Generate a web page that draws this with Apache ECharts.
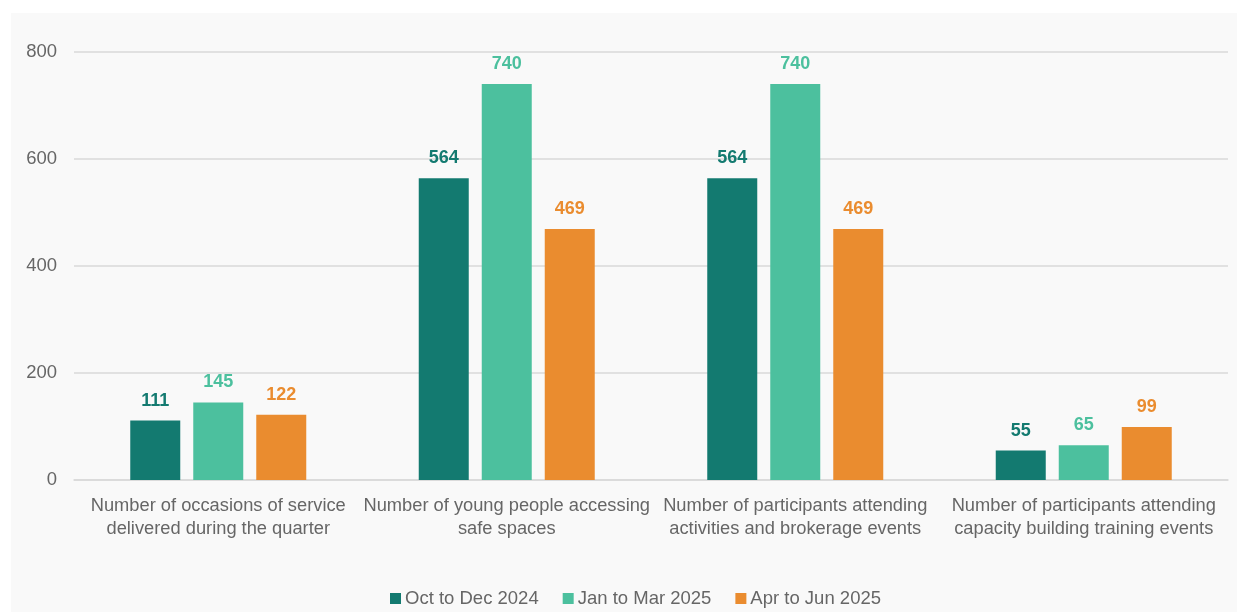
<!DOCTYPE html>
<html>
<head>
<meta charset="utf-8">
<script src="https://cdn.jsdelivr.net/npm/echarts@6/dist/echarts.min.js"></script>
<style>
  html, body { margin: 0; padding: 0; background: #ffffff; }
  #panel { position: absolute; left: 11px; top: 13px; width: 1226px; height: 599px; background: #f9f9f9; }
  #chart { position: absolute; left: 0; top: 0; width: 1237px; height: 612px; }
</style>
</head>
<body>
<div id="panel"></div>
<div id="chart"></div>
<script>
// Indicator categories and quarterly counts
const categories = [
  'Number of occasions of service\ndelivered during the quarter',
  'Number of young people accessing\nsafe spaces',
  'Number of participants attending\nactivities and brokerage events',
  'Number of participants attending\ncapacity building training events'
];
const seriesNames = ['Oct to Dec 2024', 'Jan to Mar 2025', 'Apr to Jun 2025'];
const octDec2024 = [111, 564, 564, 55];
const janMar2025 = [145, 740, 740, 65];
const aprJun2025 = [122, 469, 469, 99];
const yTicks = [0, 200, 400, 600, 800];

const colors = ['#137a70', '#4cc09e', '#ea8c2f'];
const font = 'Liberation Sans, Arial, sans-serif';

function barSeries(name, data, color) {
  return {
    name: name,
    type: 'bar',
    data: data,
    barWidth: 50,
    barGap: '26%',
    itemStyle: { color: color },
    label: {
      show: true,
      position: 'top',
      distance: 11,
      color: color,
      fontFamily: font,
      fontWeight: 'bold',
      fontSize: 18
    }
  };
}

const chart = echarts.init(document.getElementById('chart'), null, { renderer: 'canvas' });
chart.setOption({
  backgroundColor: 'transparent',
  animation: false,
  grid: { left: 74, right: 9, top: 52, bottom: 132, containLabel: false },
  legend: {
    data: seriesNames,
    bottom: -1,
    left: 385,
    itemWidth: 11,
    itemHeight: 11,
    itemGap: 24,
    icon: 'rect',
    textStyle: { color: '#666666', fontFamily: font, fontSize: 18.5, padding: [0, 0, 0, -1] }
  },
  xAxis: {
    type: 'category',
    data: categories,
    axisLine: { show: true, lineStyle: { color: '#d9d9d9', width: 1.5 } },
    axisTick: { show: false },
    axisLabel: {
      color: '#666666',
      fontFamily: font,
      fontSize: 18.3,
      lineHeight: 23,
      margin: 14,
      interval: 0
    }
  },
  yAxis: {
    type: 'value',
    min: yTicks[0],
    max: yTicks[yTicks.length - 1],
    interval: yTicks[1] - yTicks[0],
    axisLine: { show: false },
    axisTick: { show: false },
    splitLine: { lineStyle: { color: '#d9d9d9', width: 1.5 } },
    axisLabel: { color: '#666666', fontFamily: font, fontSize: 18.5, margin: 17 }
  },
  series: [
    barSeries(seriesNames[0], octDec2024, colors[0]),
    barSeries(seriesNames[1], janMar2025, colors[1]),
    barSeries(seriesNames[2], aprJun2025, colors[2])
  ]
});
</script>
</body>
</html>
